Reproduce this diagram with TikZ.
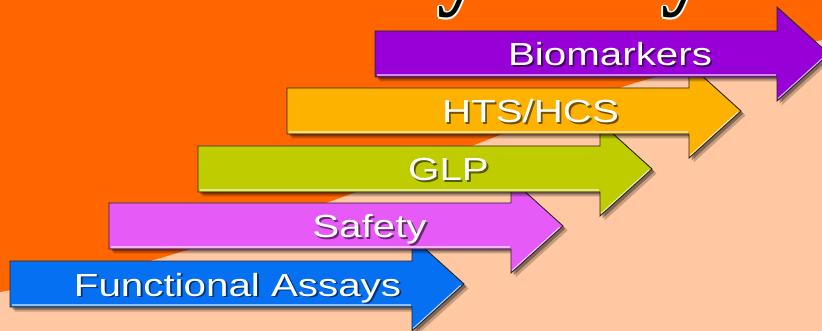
\documentclass[tikz,border=0pt]{standalone}
\usepackage{fontspec}
\setmainfont{Liberation Sans}
\newfontfamily\titlefont{Liberation Serif}
\definecolor{bgorange}{HTML}{FF6600}
\definecolor{bgpeach}{HTML}{FFC8A2}
\definecolor{cblue}{HTML}{0570F2}
\definecolor{cmagenta}{HTML}{E65AF7}
\definecolor{cgreen}{HTML}{BFCC00}
\definecolor{camber}{HTML}{FDB200}
\definecolor{cpurple}{HTML}{9800D8}
\tikzset{
  arrowline/.style={draw=black!85, line width=0.9pt, line join=miter},
  labeltext/.style={text=white, font=\fontsize{32}{32}\selectfont, anchor=base, inner sep=0pt},
  labelshadow/.style={text=black, text opacity=0.55, font=\fontsize{32}{32}\selectfont, anchor=base, inner sep=0pt},
  titleglyph/.style={font=\titlefont\bfseries\fontsize{90}{90}\selectfont, anchor=base, inner sep=0pt},
}
% #1 left x, #2 centre y, #3 colour
\newcommand\stagearrow[3]{%
  \foreach \dd/\op in {4.5/0.22, 2.5/0.35}{%
    \fill[black, opacity=\op] (#1+\dd,#2-23+\dd) -- (#1+402+\dd,#2-23+\dd) -- (#1+402+\dd,#2-47+\dd) -- (#1+454+\dd,#2+\dd) -- (#1+402+\dd,#2+47+\dd) -- (#1+402+\dd,#2+23+\dd) -- (#1+\dd,#2+23+\dd) -- cycle;}
  \fill[#3] (#1,#2-23) -- (#1+402,#2-23) -- (#1+402,#2-47) -- (#1+454,#2) -- (#1+402,#2+47) -- (#1+402,#2+23) -- (#1,#2+23) -- cycle;
  \draw[#3!45!white, line width=1.6pt] (#1+1.5,#2+21) -- (#1+400.5,#2+21);
  \draw[white!70!#3, line width=1.6pt] (#1+451,#2+1.5) -- (#1+403.5,#2+44.5);
  \draw[arrowline] (#1,#2-23) -- (#1+402,#2-23) -- (#1+402,#2-47) -- (#1+454,#2) -- (#1+402,#2+47) -- (#1+402,#2+23) -- (#1,#2+23) -- cycle;
}
\newcommand\stagelabel[4]{% #1 name, #2 centre x, #3 centre y, #4 text
  \node[labelshadow] at (#2+1.8,#3+12+1.8) {\scalebox{1.26}[1]{#4}};
  \node[labeltext] (#1) at (#2,#3+12) {\scalebox{1.26}[1]{#4}};
}
\begin{document}
\begin{tikzpicture}[x=1pt,y=-1pt]
\useasboundingbox (0,0) rectangle (822,331);
\clip (0,0) rectangle (822,331);
% background
\fill[bgpeach] (0,0) rectangle (822,331);
\fill[bgorange] (0,0) -- (822,0) -- plot[smooth] coordinates {(822,40) (638,82) (487,140) (337,199) (150,261) (0,292)} -- cycle;
% cut-off title glyphs at top edge
\foreach \gx [count=\gi] in {460,684}{%
  \foreach \a in {0,60,...,300}{%
    \node[titleglyph, text=white, xshift={1.6pt*cos(\a)}, yshift={1.6pt*sin(\a)}] at (\gx,-1) {y};}
  \node[titleglyph, text=black] (title\gi) at (\gx,-1) {y};
}
% arrows, bottom to top
\stagearrow{10}{284}{cblue}
\stagelabel{fa}{237.5}{284}{Functional Assays}
\stagearrow{109}{226}{cmagenta}
\stagelabel{safety}{369.5}{226}{Safety}
\stagearrow{198}{169}{cgreen}
\stagelabel{glp}{448.5}{169}{GLP}
\stagearrow{287}{111}{camber}
\stagelabel{hts}{530.5}{111}{HTS/HCS}
\stagearrow{375}{54}{cpurple}
\stagelabel{bio}{610}{54}{Biomarkers}
\end{tikzpicture}
\end{document}
